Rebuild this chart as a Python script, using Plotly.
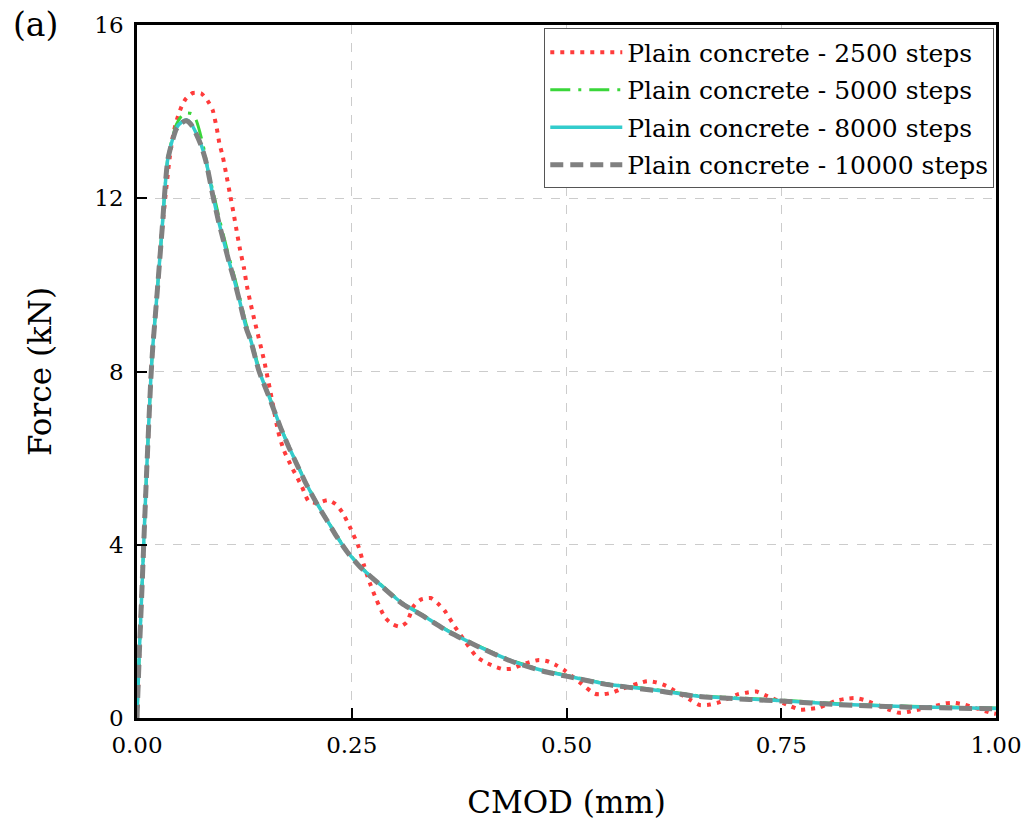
import plotly.graph_objects as go

# ---------------- data ----------------
x_8000 = [0, .0027, .0054, .008, .011, .016, .018, .023, .029, .036, .0458, .052, .0574, .063, .069,
          .0748, .0805, .088, .095, .1006, .107, .113, .119, .127, .1326, .142, .154, .167, .177, .1865,
          .196, .2096, .2212, .2327, .246, .2616, .281, .308, .331, .362, .40, .436, .473, .501, .548,
          .61, .651, .713, .751, .816, .899, 1.0]
y_8000 = [0, 1.52, 2.81, 4.11, 5.6, 7.8, 8.48, 9.71, 11.24, 12.93, 13.62, 13.76, 13.81, 13.72, 13.5,
          13.23, 12.85, 12.1, 11.47, 11.04, 10.55, 10.13, 9.67, 9.02, 8.71, 8.02, 7.41, 6.72, 6.25, 5.85,
          5.45, 4.95, 4.57, 4.19, 3.81, 3.46, 3.12, 2.66, 2.39, 2.01, 1.63, 1.32, 1.09, 0.97, 0.78,
          0.63, 0.51, 0.44, 0.40, 0.32, 0.26, 0.22]

x_10000 = [0, .0027, .0054, .008, .011, .016, .018, .023, .029, .036, .0458, .052, .0574, .063, .069,
           .0748, .0805, .088, .095, .1006, .107, .113, .119, .127, .1326, .142, .154, .167, .177, .1865,
           .196, .2096, .2212, .2327, .246, .2616, .281, .308, .331, .362, .40, .436, .473, .501, .548,
           .61, .651, .713, .751, .816, .899, 1.0]
y_10000 = [0, 1.5, 2.8, 4.1, 5.58, 7.78, 8.46, 9.7, 11.22, 12.9, 13.6, 13.74, 13.79, 13.7, 13.48,
           13.21, 12.83, 12.09, 11.46, 11.03, 10.54, 10.12, 9.66, 9.01, 8.7, 8.01, 7.4, 6.71, 6.24, 5.84,
           5.44, 4.94, 4.56, 4.18, 3.8, 3.45, 3.11, 2.65, 2.38, 2.0, 1.62, 1.31, 1.08, 0.96, 0.77,
           0.62, 0.5, 0.43, 0.39, 0.31, 0.25, 0.21]

x_5000 = [0, .0027, .0054, .008, .011, .016, .018, .023, .029, .036, .0458, .052, .058, .064, .069,
          .073, .0786, .0825, .088, .095, .1006, .107, .113, .119, .127, .1326, .142, .154, .167, .177,
          .1865, .196, .2096, .2212, .2327, .246, .2616, .281, .308, .331, .362, .40, .436, .473, .501,
          .548, .61, .651, .713, .751, .816, .899, 1.0]
y_5000 = [0, 1.52, 2.81, 4.11, 5.6, 7.8, 8.48, 9.71, 11.24, 12.95, 13.7, 13.9, 13.97, 13.95, 13.8,
          13.54, 13.08, 12.65, 12.2, 11.6, 11.15, 10.65, 10.22, 9.75, 9.1, 8.77, 8.07, 7.43, 6.73, 6.26,
          5.86, 5.46, 4.96, 4.58, 4.2, 3.82, 3.47, 3.13, 2.67, 2.4, 2.02, 1.64, 1.33, 1.1, 0.98,
          0.79, 0.64, 0.52, 0.45, 0.41, 0.33, 0.27, 0.23]

x_2500 = [0, .0027, .0054, .008, .011, .016, .018, .023, .029, .038, .042, .0447, .0478, .0517, .0566,
          .065, .0748, .0825, .088, .0929, .096, .0998, .104, .108, .112, .116, .12, .1245, .128, .1326,
          .1376, .148, .1576, .1645, .171, .181, .192, .200, .211, .222, .231, .239, .249, .258, .264,
          .271, .279, .289, .298, .306, .314, .322, .331, .342, .350, .358, .370, .383, .395, .405,
          .415, .426, .436, .447, .457, .468, .478, .488, .497, .515, .533, .543, .554, .564, .584,
          .594, .605, .616, .644, .655, .667, .679, .700, .711, .721, .731, .761, .772, .783, .794,
          .814, .824, .836, .846, .876, .887, .897, .909, .930, .941, .951, .963, .994, 1.0]
y_2500 = [0, 1.52, 2.81, 4.11, 5.6, 7.8, 8.48, 9.71, 11.24, 12.93, 13.46, 13.69, 13.9, 14.11, 14.29,
          14.43, 14.42, 14.24, 14.04, 13.61, 13.26, 12.97, 12.54, 12.12, 11.7, 11.25, 10.81, 10.39, 9.97, 9.54,
          9.11, 8.25, 7.3, 6.6, 6.18, 5.76, 5.34, 5.0, 4.97, 5.03, 4.94, 4.75, 4.36, 3.95, 3.54,
          3.12, 2.72, 2.31, 2.16, 2.11, 2.21, 2.58, 2.74, 2.77, 2.65, 2.48, 2.11, 1.74, 1.42, 1.29,
          1.2, 1.13, 1.14, 1.22, 1.29, 1.34, 1.31, 1.22, 1.11, 0.83, 0.56, 0.55, 0.59, 0.67, 0.8,
          0.85, 0.82, 0.74, 0.42, 0.3, 0.31, 0.37, 0.55, 0.59, 0.61, 0.53, 0.27, 0.19, 0.21, 0.24,
          0.4, 0.44, 0.46, 0.42, 0.19, 0.12, 0.14, 0.19, 0.28, 0.34, 0.35, 0.31, 0.12, 0.1]

names = ["Plain concrete - 2500 steps", "Plain concrete - 5000 steps",
         "Plain concrete - 8000 steps", "Plain concrete - 10000 steps"]

x_ticks = [0, 0.25, 0.5, 0.75, 1.0]
x_ticktext = ["0.00", "0.25", "0.50", "0.75", "1.00"]
y_ticks = [0, 4, 8, 12, 16]

FONT = "DejaVu Serif"

fig = go.Figure()
series = [
    (x_2500, y_2500, names[0], dict(color="#ff3b3b", width=4, dash="4px,6px")),
    (x_5000, y_5000, names[1], dict(color="#3ad63a", width=3, dash="20px,8px,3px,8px")),
    (x_8000, y_8000, names[2], dict(color="#33cccc", width=3.5)),
    (x_10000, y_10000, names[3], dict(color="#808080", width=5, dash="13px,7px")),
]
for i, (xs, ys, nm, ln) in enumerate(series):
    fig.add_trace(go.Scatter(x=xs, y=ys, name=nm, mode="lines",
                             line=dict(shape="spline", smoothing=0.6, **ln),
                             legendgroup=f"g{i}"))

axis_common = dict(
    showline=True, linecolor="black", linewidth=2.5, mirror=True,
    ticks="inside", ticklen=10, tickwidth=2, tickcolor="black",
    showgrid=True, gridcolor="#cccccc", gridwidth=1, griddash="dash",
    zeroline=False, tickfont=dict(family=FONT, size=23, color="black"),
)
fig.update_xaxes(range=[0, 1], tickvals=x_ticks, ticktext=x_ticktext, ticklabelstandoff=5,
                 title=dict(text="CMOD (mm)", font=dict(family=FONT, size=31, color="black"), standoff=34),
                 **axis_common)
fig.update_yaxes(range=[0, 16], tickvals=y_ticks, ticklabelstandoff=6,
                 title=dict(text="Force (kN)", font=dict(family=FONT, size=31, color="black"), standoff=34),
                 **axis_common)

fig.update_layout(
    width=1034, height=826,
    margin=dict(l=137, r=32, t=23, b=107),
    paper_bgcolor="white", plot_bgcolor="white",
    font=dict(family=FONT, color="black"),
    legend=dict(x=0.998, y=0.995, xanchor="right", yanchor="top",
                bgcolor="white", bordercolor="#555555", borderwidth=1,
                font=dict(family=FONT, size=25, color="black"),
                itemwidth=72, tracegroupgap=2),
    annotations=[dict(text="(a)", x=35, y=22, xref="paper", yref="paper", showarrow=False,
                      font=dict(family=FONT, size=33, color="black"))],
)
# place "(a)" in pixel terms relative to the plot area
pw, ph = 1034 - 137 - 32, 826 - 23 - 107
fig.layout.annotations[0].update(x=(35 - 137) / pw, y=(719 - 22) / ph,
                                 xanchor="center", yanchor="middle")

fig.write_html("out.html")
